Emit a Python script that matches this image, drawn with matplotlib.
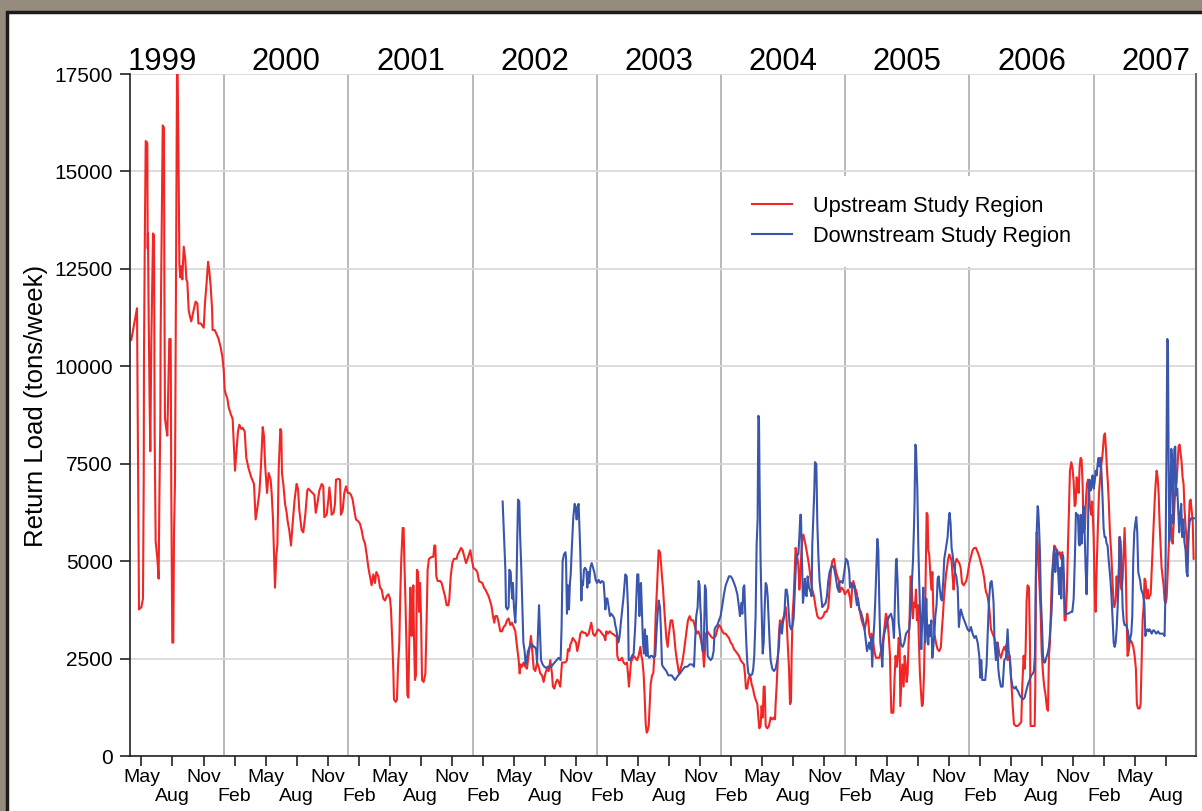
import matplotlib.pyplot as plt
from matplotlib.patches import Rectangle

plt.rcParams["font.family"] = ["Liberation Sans", "DejaVu Sans"]

# weekly return load, decimal year / tons per week
up_year = [
    1999.252, 1999.298, 1999.306, 1999.314, 1999.333, 1999.346, 1999.352, 1999.354, 1999.360, 1999.368,
    1999.381, 1999.384, 1999.386, 1999.392, 1999.400, 1999.405, 1999.413, 1999.427, 1999.435, 1999.440,
    1999.448, 1999.462, 1999.472, 1999.478, 1999.486, 1999.488, 1999.496, 1999.505, 1999.515, 1999.518,
    1999.523, 1999.534, 1999.542, 1999.550, 1999.558, 1999.569, 1999.574, 1999.582, 1999.590, 1999.596,
    1999.604, 1999.612, 1999.620, 1999.625, 1999.633, 1999.639, 1999.647, 1999.655, 1999.663, 1999.674,
    1999.687, 1999.695, 1999.703, 1999.714, 1999.725, 1999.735, 1999.754, 1999.770, 1999.784, 1999.792,
    1999.811, 1999.824, 1999.835, 1999.845, 1999.859, 1999.870, 1999.880, 1999.891, 1999.902, 1999.907,
    1999.923, 1999.937, 1999.955, 1999.972, 1999.985, 1999.996, 2000.004, 2000.012, 2000.025, 2000.036,
    2000.052, 2000.068, 2000.079, 2000.087, 2000.095, 2000.111, 2000.122, 2000.138, 2000.149, 2000.165,
    2000.178, 2000.197, 2000.218, 2000.240, 2000.253, 2000.267, 2000.283, 2000.296, 2000.310, 2000.320,
    2000.329, 2000.345, 2000.358, 2000.374, 2000.382, 2000.393, 2000.401, 2000.409, 2000.420, 2000.428,
    2000.439, 2000.452, 2000.460, 2000.465, 2000.476, 2000.490, 2000.503, 2000.511, 2000.524, 2000.538,
    2000.551, 2000.567, 2000.583, 2000.594, 2000.605, 2000.624, 2000.637, 2000.653, 2000.669,
    2000.677, 2000.704, 2000.726, 2000.737, 2000.750, 2000.766, 2000.785, 2000.798, 2000.806, 2000.825,
    2000.839, 2000.847, 2000.857, 2000.865, 2000.881, 2000.892, 2000.900, 2000.919, 2000.932, 2000.940,
    2000.954, 2000.967, 2000.981, 2000.994, 2001.008, 2001.021, 2001.034, 2001.048, 2001.061, 2001.080,
    2001.093, 2001.107, 2001.120, 2001.134, 2001.147, 2001.161, 2001.174, 2001.187, 2001.201, 2001.214,
    2001.225, 2001.241, 2001.255, 2001.268, 2001.281, 2001.295, 2001.308, 2001.322, 2001.335, 2001.343,
    2001.354, 2001.362, 2001.367, 2001.381, 2001.391, 2001.399, 2001.410, 2001.418, 2001.426, 2001.437,
    2001.445, 2001.450, 2001.459, 2001.467, 2001.475, 2001.483, 2001.491, 2001.499, 2001.504, 2001.510,
    2001.515, 2001.523, 2001.528, 2001.536, 2001.544, 2001.552, 2001.561, 2001.569, 2001.577, 2001.585,
    2001.593, 2001.606, 2001.620, 2001.630, 2001.638, 2001.649, 2001.671, 2001.684, 2001.692, 2001.700,
    2001.708, 2001.719, 2001.738, 2001.751, 2001.764, 2001.778, 2001.791, 2001.805, 2001.813, 2001.824,
    2001.837, 2001.850, 2001.872, 2001.880, 2001.899, 2001.907, 2001.920, 2001.934, 2001.947, 2001.960,
    2001.971, 2001.982, 2001.993, 2002.006, 2002.025, 2002.038, 2002.052, 2002.065, 2002.079, 2002.092,
    2002.103, 2002.129, 2002.151, 2002.164, 2002.175, 2002.183, 2002.197, 2002.210, 2002.223, 2002.237,
    2002.250, 2002.264, 2002.277, 2002.290, 2002.304, 2002.317, 2002.331, 2002.344, 2002.358, 2002.371,
    2002.379, 2002.387, 2002.398, 2002.411, 2002.425, 2002.438, 2002.446, 2002.460, 2002.470, 2002.478,
    2002.492, 2002.505, 2002.519, 2002.532, 2002.545, 2002.559, 2002.572, 2002.586, 2002.599, 2002.613,
    2002.626, 2002.639, 2002.647, 2002.658, 2002.672, 2002.682, 2002.693, 2002.706, 2002.714, 2002.720,
    2002.733, 2002.747, 2002.760, 2002.768, 2002.779, 2002.787, 2002.795, 2002.806, 2002.819, 2002.833,
    2002.843, 2002.854, 2002.868, 2002.881, 2002.894, 2002.908, 2002.921, 2002.935, 2002.948, 2002.956,
    2002.970, 2002.983, 2002.994, 2003.010, 2003.029, 2003.042, 2003.058, 2003.069, 2003.077, 2003.090,
    2003.104, 2003.123, 2003.136, 2003.149, 2003.160, 2003.165, 2003.176, 2003.190, 2003.203, 2003.216,
    2003.230, 2003.243, 2003.251, 2003.259, 2003.267, 2003.275, 2003.283, 2003.297, 2003.310, 2003.324,
    2003.337, 2003.351, 2003.359, 2003.367, 2003.377, 2003.385, 2003.394, 2003.402, 2003.410, 2003.418,
    2003.426, 2003.434, 2003.445, 2003.455, 2003.466, 2003.474, 2003.485, 2003.498, 2003.509, 2003.517,
    2003.525,
    2003.533, 2003.546, 2003.560, 2003.571, 2003.581, 2003.595, 2003.608, 2003.622, 2003.635, 2003.648,
    2003.662, 2003.675, 2003.689, 2003.702, 2003.716, 2003.734, 2003.748, 2003.761, 2003.777, 2003.791,
    2003.804, 2003.818, 2003.831, 2003.844, 2003.855, 2003.863, 2003.871, 2003.879, 2003.890, 2003.903,
    2003.917, 2003.930, 2003.944, 2003.957, 2003.971, 2003.984, 2003.997, 2004.011, 2004.024, 2004.038,
    2004.051, 2004.064, 2004.078, 2004.091, 2004.105, 2004.118, 2004.132, 2004.145, 2004.158, 2004.172,
    2004.185, 2004.193, 2004.201, 2004.212, 2004.220, 2004.231, 2004.239, 2004.247, 2004.258, 2004.268,
    2004.279, 2004.293, 2004.301, 2004.309, 2004.319, 2004.327, 2004.336, 2004.344, 2004.352, 2004.360,
    2004.373, 2004.386, 2004.400, 2004.413, 2004.427, 2004.435, 2004.440, 2004.448, 2004.456, 2004.467,
    2004.475, 2004.483, 2004.494, 2004.507, 2004.521, 2004.529, 2004.537, 2004.548, 2004.556, 2004.564,
    2004.569, 2004.577, 2004.585, 2004.593, 2004.601, 2004.612, 2004.623, 2004.631, 2004.639, 2004.647,
    2004.655, 2004.663, 2004.671, 2004.682, 2004.695, 2004.709, 2004.722, 2004.735, 2004.749, 2004.762,
    2004.776, 2004.789, 2004.808, 2004.824, 2004.837, 2004.851, 2004.864, 2004.875, 2004.886, 2004.896,
    2004.910, 2004.923, 2004.937, 2004.950,
    2004.958, 2004.972, 2004.985, 2004.998, 2005.012, 2005.025, 2005.039, 2005.047, 2005.055, 2005.066,
    2005.079, 2005.092, 2005.106, 2005.119, 2005.133, 2005.146, 2005.157, 2005.168, 2005.178, 2005.186,
    2005.194, 2005.202, 2005.213, 2005.221, 2005.235, 2005.248, 2005.261, 2005.275, 2005.288, 2005.302,
    2005.315, 2005.328, 2005.339, 2005.350, 2005.361, 2005.366, 2005.372, 2005.388, 2005.398, 2005.406,
    2005.414, 2005.422, 2005.431, 2005.439, 2005.444, 2005.452, 2005.460, 2005.471, 2005.479, 2005.487,
    2005.495, 2005.503, 2005.511, 2005.519, 2005.527, 2005.535, 2005.546, 2005.554, 2005.562, 2005.570,
    2005.578, 2005.586, 2005.594, 2005.602, 2005.610, 2005.618, 2005.626, 2005.635, 2005.643, 2005.651,
    2005.656, 2005.664, 2005.669, 2005.677, 2005.685, 2005.694, 2005.702, 2005.710, 2005.718, 2005.731,
    2005.744, 2005.758, 2005.771, 2005.779, 2005.787, 2005.795, 2005.804, 2005.812, 2005.820, 2005.830,
    2005.838, 2005.847, 2005.857, 2005.865, 2005.873, 2005.879, 2005.887, 2005.898, 2005.908, 2005.919,
    2005.930, 2005.941, 2005.954, 2005.965, 2005.975, 2005.986, 2006.000, 2006.013, 2006.026, 2006.040,
    2006.053, 2006.067, 2006.080, 2006.093, 2006.107, 2006.120, 2006.128, 2006.134, 2006.142, 2006.150,
    2006.158, 2006.166, 2006.174, 2006.187, 2006.201, 2006.214, 2006.228, 2006.241, 2006.254, 2006.268,
    2006.281, 2006.295, 2006.300, 2006.308, 2006.322, 2006.332, 2006.340, 2006.348, 2006.359, 2006.375,
    2006.389, 2006.405, 2006.418, 2006.426, 2006.437, 2006.445, 2006.453, 2006.461, 2006.469, 2006.480,
    2006.488, 2006.493, 2006.504, 2006.517, 2006.526, 2006.531, 2006.536, 2006.542, 2006.550, 2006.558,
    2006.566, 2006.574, 2006.582, 2006.593, 2006.603, 2006.614, 2006.625, 2006.633, 2006.641, 2006.649,
    2006.657, 2006.665, 2006.673, 2006.684, 2006.695, 2006.705, 2006.716, 2006.727, 2006.738, 2006.748,
    2006.759, 2006.767, 2006.775, 2006.786, 2006.794, 2006.802, 2006.810, 2006.821, 2006.831, 2006.840,
    2006.848, 2006.856, 2006.864, 2006.872, 2006.880, 2006.888, 2006.896, 2006.904, 2006.912, 2006.920,
    2006.931, 2006.939, 2006.947, 2006.955, 2006.963, 2006.971, 2006.982, 2006.990, 2007.001, 2007.009,
    2007.017, 2007.025, 2007.035, 2007.044, 2007.052, 2007.060, 2007.068, 2007.076, 2007.084, 2007.092,
    2007.100, 2007.108, 2007.116, 2007.124, 2007.132, 2007.143, 2007.151, 2007.159, 2007.167, 2007.178,
    2007.186, 2007.194, 2007.202, 2007.210, 2007.218, 2007.226, 2007.234, 2007.242, 2007.250, 2007.258,
    2007.266, 2007.274, 2007.283, 2007.290, 2007.298, 2007.309, 2007.320, 2007.331, 2007.341, 2007.349,
    2007.358, 2007.371, 2007.379, 2007.387, 2007.395, 2007.403, 2007.411, 2007.419, 2007.427, 2007.435,
    2007.443, 2007.451, 2007.460, 2007.468, 2007.476, 2007.484, 2007.492, 2007.500, 2007.508, 2007.516,
    2007.524, 2007.532, 2007.540, 2007.548, 2007.556, 2007.564, 2007.572, 2007.580, 2007.588, 2007.596,
    2007.604, 2007.613, 2007.621, 2007.629, 2007.637, 2007.645, 2007.653, 2007.661, 2007.669, 2007.677,
    2007.685, 2007.693, 2007.701, 2007.709, 2007.717, 2007.725, 2007.733, 2007.742, 2007.750, 2007.757,
    2007.765, 2007.774, 2007.782, 2007.790, 2007.798, 2007.806,
]
up_load = [
    10680, 11490, 7650, 3760, 3820, 4040, 7090, 10200, 12960, 15780,
    15730, 13020, 13410, 11210, 8950, 7820, 10590, 13410, 13360, 8220,
    5510, 5060, 4550, 6580, 8670, 10760, 13410, 16180, 16120, 12340,
    8670, 8390, 8220, 9460, 10700, 10700, 6810, 2910, 2910, 5740,
    7090, 12280, 17600, 17600, 14990, 12620, 12280, 12570, 12230, 13070,
    12740, 12230, 12170, 11440, 11270, 11150, 11440, 11660, 11610, 11100,
    11100, 11040, 10990, 11610, 12170, 12680, 12450, 12060, 11490, 10930,
    10930, 10840, 10700, 10480, 10250, 9910, 9400, 9290, 9180, 8950,
    8780, 8650, 7880, 7320, 7650, 8330, 8500, 8390, 8420, 8330,
    7650, 7370, 7150, 6980, 6070, 6360, 6750, 7430, 8440, 8220,
    7490, 6750, 7260, 7090, 6750, 6070, 5230, 4320, 5170, 5400,
    7370, 8390, 8330, 7260, 6980, 6470, 6240, 6020, 5790, 5400,
    5960, 6580, 6980, 6860, 6300, 5790, 5740, 6190, 6810,
    6860, 6770, 6700, 6240, 6470, 6810, 6980, 6920, 6130, 6190,
    6580, 6890, 6580, 6190, 6240, 6470, 7090, 7110, 7090, 6190,
    6300, 6750, 6920, 6750, 6750, 6700, 6580, 6300, 6070, 6020,
    5960, 5790, 5570, 5450, 5170, 4830, 4610, 4380, 4660, 4440,
    4720, 4610, 4320, 4270, 4040, 3990, 4100, 4150, 4040, 3760,
    2910, 2180, 1450, 1390, 1450, 2240, 2910, 4150, 5060, 5850,
    5850, 5060, 4040, 2910, 1560, 1500, 3140, 4320, 3930, 3080,
    3480, 4380, 3080, 1950, 2070, 4780, 4720, 3700, 4440, 3530,
    1950, 1900, 2120, 3480, 4780, 5060, 5110, 5110, 5400, 5400,
    4610, 4490, 4490, 4440, 4270, 4100, 3870, 3870, 4040, 4610,
    4950, 5060, 5060, 5170, 5280, 5340, 5280, 5110, 4950, 5060,
    5170, 5280, 5060, 4830, 4780, 4720, 4490, 4460, 4440, 4320,
    4270, 4100, 3870, 3590, 3420, 3590, 3590, 3420, 3200, 3200,
    3310, 3360, 3480, 3530, 3360, 3420, 3310, 3200, 2800, 2460,
    2120, 2350, 2290, 2400, 2290, 2240, 2460, 2800, 3080, 2800,
    2240, 2180, 2400, 2290, 2120, 2070, 1900, 2120, 2240, 2180,
    2460, 2120, 1780, 1730, 1900, 1960, 1900, 1780, 2120, 2400,
    2400, 2400, 2460, 2740, 2690, 2860, 2910, 3030, 2970, 2910,
    2690, 2860, 3140, 3200, 3160, 3160, 3080, 3140, 3310, 3420,
    3140, 3080, 3140, 3250, 3200, 3140, 3080, 2970, 3200, 3140,
    3200, 3140, 3120, 3080, 3080, 2570, 2460, 2460, 2520, 2400,
    2350, 2400, 2120, 1780, 2070, 2400, 2460, 2570, 2520, 2460,
    2570, 2800, 2570, 2460, 2120, 1560, 820, 600, 650, 770,
    1330, 1840, 2070, 2120, 2690, 3590, 4320, 5280, 5230, 4950,
    4610,
    4320, 3650, 3030, 2800, 3140, 3480, 3480, 3140, 2690, 2400,
    2120, 2240, 2400, 2690, 3030, 3480, 3590, 3480, 3480, 3310,
    3140, 3200, 3080, 2910, 2690, 2290, 2740, 3140, 3200, 3140,
    3080, 3030, 3030, 3080, 3250, 3360, 3310, 3200, 3140, 3140,
    3080, 3030, 2910, 2860, 2740, 2690, 2630, 2570, 2460, 2400,
    2350, 2120, 1730, 1730, 1950, 2070, 2010, 1840, 1730, 1560,
    1450, 1330, 990, 710, 770, 1280, 990, 1780, 1780, 770,
    710, 770, 990, 940, 990, 940, 1330, 1780, 2350, 3140,
    3480, 3200, 3480, 3590, 3820, 3480, 2910, 2240, 1330, 1390,
    2570, 3650, 4040, 4660, 5340, 5170, 4890, 4270, 4610, 5170,
    5570, 5680, 5570, 5400, 5170, 4890, 4550, 4270, 4100, 3820,
    3590, 3530, 3530, 3590, 3700, 3700, 3820, 4320, 4780, 5000,
    5060, 4780, 4610, 4490,
    4210, 4320, 4270, 4150, 4210, 4270, 4040, 3820, 4270, 4490,
    4320, 4210, 3930, 3700, 3480, 3360, 3250, 3420, 3650, 3480,
    3140, 3030, 3140, 3030, 2690, 2520, 2520, 2520, 2690, 2910,
    3250, 3650, 3530, 3140, 2570, 1780, 1110, 1110, 2010, 2570,
    2290, 2460, 3030, 2860, 1280, 1840, 2350, 1780, 2570, 2350,
    1900, 2120, 2910, 3590, 4610, 4440, 3530, 3930, 3820, 4270,
    3480, 3870, 2910, 2120, 1670, 1280, 1330, 2120, 3480, 5170,
    6240, 6190, 5280, 5170, 4720, 4270, 4720, 3700, 3140, 2910,
    2740, 2690, 2800, 3250, 3590, 4040, 4380, 4660, 4830, 5060,
    5170, 5110, 5000, 4610, 4270, 4490, 4950, 5060, 5000, 4950,
    4830, 4440, 4380, 4440, 4490, 4660, 4950, 5110, 5280, 5340,
    5340, 5230, 5110, 4950, 4780, 4550, 4320, 4210, 4150, 4040,
    3870, 3590, 3250, 3140, 3030, 2860, 2910, 2630, 2520, 2690,
    2800, 2690, 2860, 2460, 2570, 2240, 1780, 1330, 820, 770,
    770, 820, 880, 1780, 2570, 2240, 2690, 3990, 4380, 4320,
    2910, 770, 770, 770, 770, 1780, 4380, 5740, 5510, 4830,
    4270, 3700, 2690, 2120, 1780, 1560, 1220, 1160, 2570, 2910,
    3820, 4660, 4950, 5400, 5340, 5230, 5170, 5230, 5060, 5230,
    4490, 3480, 3480, 4270, 5400, 6300, 7320, 7540, 7370, 7030,
    6410, 6470, 7150, 7030, 6750, 7430, 7650, 7600, 6980, 5740,
    5850, 6580, 6980, 7090, 6860, 6410, 6190, 6530, 5570, 4320,
    3700, 4780, 5900, 6750, 7090, 7430, 7600, 7880, 8220, 8280,
    7880, 7370, 6980, 6410, 5740, 5170, 4610, 4040, 3820, 3990,
    4610, 4100, 4490, 5620, 4490, 4270, 4550, 5170, 5850, 5060,
    3590, 2570, 2690, 2910, 2970, 2910, 2800, 2570, 2240, 1330,
    1220, 1220, 1330, 2460, 3480, 3820, 4550, 4490, 4040, 4270,
    4040, 4100, 4150, 4720, 5340, 5960, 6530, 6980, 7320, 7150,
    6750, 5960, 5400, 4830, 4610, 4380, 3990, 3930, 4040, 4610,
    5280, 5960, 6190, 5620, 5450, 5960, 6530, 6860, 7030, 7490,
    7940, 7990, 7770, 7540, 7150, 6980, 6300, 5850, 5510, 5060,
    5740, 6530, 6580, 6300, 6070, 5060,
]

down_year = [
    2002.242, 2002.253, 2002.264, 2002.269, 2002.280, 2002.290, 2002.296, 2002.307, 2002.312, 2002.320,
    2002.325, 2002.333, 2002.344, 2002.352, 2002.360, 2002.366, 2002.376, 2002.382, 2002.392, 2002.401,
    2002.409, 2002.419, 2002.427, 2002.435, 2002.446, 2002.460, 2002.470, 2002.481, 2002.492, 2002.500,
    2002.511, 2002.519, 2002.527, 2002.535, 2002.543, 2002.551, 2002.564, 2002.578, 2002.591, 2002.604,
    2002.621, 2002.634, 2002.647, 2002.661, 2002.677, 2002.693, 2002.709, 2002.717, 2002.725, 2002.736,
    2002.747, 2002.752, 2002.760, 2002.768, 2002.776, 2002.784, 2002.790, 2002.800, 2002.811, 2002.822,
    2002.830, 2002.838, 2002.846, 2002.854, 2002.859, 2002.868, 2002.876, 2002.881, 2002.889, 2002.897,
    2002.905, 2002.916, 2002.924, 2002.932, 2002.940, 2002.948, 2002.959, 2002.970, 2002.980, 2002.991,
    2003.002, 2003.015, 2003.029, 2003.042, 2003.055, 2003.063, 2003.069, 2003.077, 2003.085, 2003.096,
    2003.106, 2003.117, 2003.131, 2003.141, 2003.149, 2003.157, 2003.165, 2003.174, 2003.184, 2003.192,
    2003.203, 2003.216, 2003.230, 2003.241, 2003.251, 2003.257, 2003.270, 2003.284, 2003.297, 2003.310,
    2003.318, 2003.326, 2003.335, 2003.343, 2003.348, 2003.356, 2003.364, 2003.372, 2003.380, 2003.388,
    2003.396, 2003.404, 2003.412, 2003.423, 2003.434, 2003.445, 2003.458, 2003.471, 2003.482, 2003.490,
    2003.498, 2003.509, 2003.517, 2003.525,
    2003.533, 2003.546, 2003.560, 2003.576, 2003.589, 2003.603, 2003.616, 2003.630, 2003.643, 2003.656,
    2003.670, 2003.683, 2003.697, 2003.710, 2003.729, 2003.748, 2003.769, 2003.783, 2003.791, 2003.801,
    2003.812, 2003.820, 2003.828, 2003.834, 2003.839, 2003.844, 2003.852, 2003.860, 2003.866, 2003.871,
    2003.879, 2003.885, 2003.893, 2003.903, 2003.917, 2003.930, 2003.941, 2003.949, 2003.957, 2003.971,
    2003.984, 2003.997, 2004.011, 2004.024, 2004.038, 2004.051, 2004.064, 2004.078, 2004.091, 2004.105,
    2004.118, 2004.132, 2004.145, 2004.153, 2004.164, 2004.172, 2004.180, 2004.188, 2004.196, 2004.204,
    2004.212, 2004.220, 2004.239, 2004.252, 2004.260, 2004.268, 2004.279, 2004.287, 2004.295, 2004.301,
    2004.306, 2004.311, 2004.319, 2004.327, 2004.336, 2004.344, 2004.352, 2004.360, 2004.368, 2004.376,
    2004.384, 2004.392, 2004.400, 2004.413, 2004.427, 2004.440, 2004.454, 2004.467, 2004.475, 2004.483,
    2004.491, 2004.499, 2004.510, 2004.521, 2004.529, 2004.537, 2004.545, 2004.553, 2004.564, 2004.574,
    2004.585, 2004.596, 2004.607, 2004.623, 2004.631, 2004.639, 2004.644, 2004.652, 2004.660, 2004.668,
    2004.676, 2004.682, 2004.690, 2004.698, 2004.709, 2004.722, 2004.730, 2004.735, 2004.743, 2004.751,
    2004.757, 2004.768, 2004.776, 2004.784, 2004.794, 2004.803, 2004.816, 2004.829, 2004.843, 2004.853,
    2004.864, 2004.875, 2004.886, 2004.896, 2004.910, 2004.923, 2004.937, 2004.950,
    2004.953, 2004.966, 2004.980, 2004.993, 2005.006, 2005.020, 2005.033, 2005.039, 2005.047, 2005.060,
    2005.074, 2005.087, 2005.095, 2005.103, 2005.114, 2005.127, 2005.141, 2005.154, 2005.168, 2005.176,
    2005.184, 2005.194, 2005.202, 2005.210, 2005.218, 2005.227, 2005.235, 2005.243, 2005.251, 2005.259,
    2005.267, 2005.275, 2005.283, 2005.291, 2005.299, 2005.307, 2005.315, 2005.328, 2005.342, 2005.355,
    2005.369, 2005.382, 2005.393, 2005.401, 2005.409, 2005.414, 2005.422, 2005.431, 2005.439, 2005.449,
    2005.463, 2005.476, 2005.490, 2005.503, 2005.516, 2005.530, 2005.538, 2005.546, 2005.554, 2005.559,
    2005.565, 2005.570, 2005.575, 2005.581, 2005.589, 2005.597, 2005.605, 2005.613, 2005.621, 2005.629,
    2005.637, 2005.645, 2005.653, 2005.661, 2005.669, 2005.677, 2005.685, 2005.694, 2005.702, 2005.710,
    2005.718, 2005.726, 2005.736, 2005.745, 2005.753, 2005.761, 2005.771, 2005.779, 2005.790, 2005.798,
    2005.812, 2005.825, 2005.833, 2005.841, 2005.849, 2005.857, 2005.865, 2005.873, 2005.884, 2005.895,
    2005.906, 2005.916, 2005.924, 2005.932, 2005.946, 2005.959, 2005.973, 2005.986, 2006.000, 2006.013,
    2006.026, 2006.040, 2006.053, 2006.067, 2006.080, 2006.088, 2006.096, 2006.104, 2006.118, 2006.128,
    2006.139, 2006.147, 2006.158, 2006.169, 2006.179, 2006.187, 2006.195, 2006.203, 2006.214, 2006.225,
    2006.233, 2006.241, 2006.254, 2006.268, 2006.281, 2006.295, 2006.308, 2006.316, 2006.327, 2006.335,
    2006.348, 2006.362, 2006.375,
    2006.378, 2006.391, 2006.405, 2006.418, 2006.432, 2006.445, 2006.458, 2006.472, 2006.485, 2006.499,
    2006.512, 2006.520, 2006.528, 2006.536, 2006.544, 2006.550, 2006.555, 2006.560, 2006.568, 2006.576,
    2006.585, 2006.593, 2006.601, 2006.609, 2006.619, 2006.630, 2006.641, 2006.652, 2006.662, 2006.670,
    2006.678, 2006.684, 2006.692, 2006.700, 2006.708, 2006.716, 2006.724, 2006.732, 2006.740, 2006.748,
    2006.756, 2006.764, 2006.772, 2006.794, 2006.821, 2006.829, 2006.840, 2006.850, 2006.858, 2006.866,
    2006.874, 2006.882, 2006.888, 2006.896, 2006.904, 2006.912, 2006.920, 2006.928, 2006.936, 2006.944,
    2006.952, 2006.960, 2006.968, 2006.977, 2006.984, 2006.992, 2007.001, 2007.009, 2007.017, 2007.025,
    2007.033, 2007.041, 2007.049, 2007.057, 2007.065, 2007.073, 2007.081, 2007.089, 2007.097, 2007.105,
    2007.113, 2007.121, 2007.129, 2007.137, 2007.146, 2007.154, 2007.162, 2007.170, 2007.178, 2007.186,
    2007.194, 2007.202, 2007.210, 2007.218, 2007.226, 2007.234, 2007.242, 2007.250, 2007.264, 2007.277,
    2007.288, 2007.296, 2007.304, 2007.312, 2007.320, 2007.328, 2007.336, 2007.344, 2007.352, 2007.360,
    2007.368, 2007.376, 2007.384, 2007.398, 2007.409, 2007.417, 2007.425, 2007.435, 2007.443, 2007.451,
    2007.460, 2007.468, 2007.476, 2007.484, 2007.492, 2007.505, 2007.519, 2007.532, 2007.545, 2007.559,
    2007.572, 2007.578, 2007.583, 2007.588, 2007.594, 2007.599, 2007.604, 2007.610, 2007.618, 2007.626,
    2007.634, 2007.642, 2007.650, 2007.658, 2007.666, 2007.674, 2007.682, 2007.690, 2007.698, 2007.706,
    2007.714, 2007.723, 2007.731, 2007.741, 2007.749, 2007.757, 2007.765, 2007.774, 2007.787, 2007.814,
]
down_load = [
    6530, 5680, 4780, 3820, 3760, 3820, 4780, 4720, 4320, 4040,
    4440, 3820, 3420, 4040, 5620, 6580, 6530, 5740, 4830, 3820,
    2910, 2690, 2350, 2460, 2690, 2800, 2860, 2860, 2800, 2800,
    2740, 2400, 3200, 3870, 3200, 2460, 2350, 2290, 2260, 2290,
    2290, 2290, 2350, 2400, 2460, 2520, 2460, 3360, 5000, 5170,
    5230, 5110, 3650, 4380, 3760, 4440, 4660, 5400, 6130, 6470,
    6360, 6070, 6410, 6470, 6020, 5170, 3990, 4490, 4380, 4780,
    4830, 4780, 4320, 4720, 4440, 4830, 4950, 4830, 4720, 4520,
    4440, 4520, 4440, 4490, 4460, 4100, 3760, 4040, 4040, 3820,
    3590, 3650, 3590, 3530, 3360, 3250, 3080, 2910, 3080, 3360,
    3700, 4100, 4660, 4610, 3820, 2460, 2460, 2570, 2630, 3360,
    4040, 4660, 4660, 3590, 4320, 4440, 3700, 2910, 2630, 3250,
    2570, 3080, 2570, 2520, 2570, 2570, 2520, 2570, 3250, 3650,
    3990, 3820, 3200, 2350,
    2290, 2240, 2180, 2070, 2070, 2070, 2010, 1950, 2010, 2070,
    2120, 2180, 2240, 2290, 2290, 2350, 2350, 2290, 2910, 3590,
    3820, 4490, 4380, 3820, 3590, 2910, 2690, 2690, 3480, 4380,
    4270, 3480, 2570, 2520, 2460, 2520, 2690, 3250, 3310, 3360,
    3480, 3590, 3870, 4150, 4380, 4490, 4610, 4610, 4550, 4440,
    4320, 4150, 3820, 3590, 3930, 3650, 4320, 4380, 3590, 2910,
    2400, 2120, 2070, 2100, 2240, 2570, 3590, 5400, 6070, 8730,
    8670, 6980, 5000, 3820, 2630, 2910, 3820, 4440, 4380, 4100,
    3480, 2910, 2460, 2240, 2180, 2240, 2460, 2800, 3360, 3250,
    3140, 3420, 3590, 4270, 4270, 4100, 3700, 3360, 3250, 3310,
    3530, 4380, 5170, 5170, 5620, 6190, 6190, 5060, 3930, 4150,
    4550, 4150, 4100, 4610, 4320, 4210, 4100, 5400, 6070, 6750,
    7540, 7490, 5960, 5170, 4490, 4210, 3820, 3870, 3930, 4100,
    4490, 4720, 4830, 4890, 4830, 4610, 4320, 4210,
    4440, 4490, 4440, 4720, 5060, 5000, 4720, 4320, 4440, 4320,
    4380, 4040, 3870, 4040, 3760, 3700, 3530, 3310, 2910, 2690,
    2800, 2910, 2740, 3030, 2290, 3030, 3420, 4040, 4830, 5570,
    5280, 3930, 2910, 2690, 2290, 2910, 3140, 3310, 3480, 3590,
    3650, 3480, 3030, 4040, 4950, 5060, 4490, 3420, 3200, 2860,
    2800, 2910, 3140, 3200, 3250, 3820, 4490, 5000, 5850, 6530,
    7990, 7940, 7430, 6860, 5400, 4380, 3480, 2740, 3590, 4320,
    3420, 2910, 4040, 3250, 2860, 3360, 3080, 3480, 2520, 2800,
    3140, 3590, 3870, 4550, 4610, 4320, 4040, 3990, 4490, 5060,
    5340, 5620, 6020, 6240, 5960, 5340, 5170, 4950, 4720, 4610,
    4320, 3310, 3590, 3760, 3590, 3480, 3360, 3250, 3200, 3310,
    3140, 3030, 3080, 2910, 2570, 2010, 2460, 1950, 1950, 1950,
    2350, 3080, 3990, 4440, 4490, 4270, 3930, 2910, 2460, 2910,
    2240, 2010, 1780, 1780, 2460, 2520, 3250, 2690, 2520, 2010,
    1780, 1730, 1780,
    1730, 1670, 1560, 1500, 1450, 1500, 1670, 1840, 1950, 2070,
    2120, 2180, 2570, 4830, 5900, 6410, 6300, 5960, 5280, 4040,
    3360, 2570, 2400, 2400, 2520, 2630, 2800, 3250, 3700, 4440,
    5170, 5340, 4720, 5170, 5280, 4660, 4150, 4830, 4040, 5170,
    5110, 4320, 3650, 3650, 3700, 3700, 4040, 5110, 6240, 6190,
    6190, 5450, 5400, 6190, 5450, 5960, 6410, 5790, 4830, 4150,
    5170, 6750, 7090, 6810, 6980, 7200, 6860, 7030, 7320, 7200,
    7490, 7650, 7430, 7650, 7200, 6580, 5850, 5620, 5620, 5450,
    5400, 5060, 4780, 4490, 3990, 3480, 2910, 2800, 2910, 3250,
    3820, 4490, 5620, 5510, 4830, 3820, 3480, 3360, 3360, 3200,
    2910, 3030, 3140, 3590, 5060, 5740, 5960, 6130, 5740, 4720,
    4610, 4490, 4270, 4150, 3930, 3080, 3200, 3250, 3200, 3250,
    3200, 3140, 3200, 3230, 3200, 3140, 3200, 3140, 3140, 3140,
    3080, 4040, 6300, 8110, 10700, 10590, 7880, 5510, 6190, 7880,
    7540, 5960, 7880, 7940, 6700, 6860, 6300, 5740, 6190, 6470,
    5620, 6070, 5510, 5280, 4720, 4610, 5740, 6020, 6100, 6100,
]

years = list(range(1999, 2008))
upper_months = {5: "May", 11: "Nov"}   # first label row
lower_months = {2: "Feb", 8: "Aug"}    # second label row
load_ticks = [0, 2500, 5000, 7500, 10000, 12500, 15000, 17500]
x_range = (1999.2415, 2007.825)


def month_ticks(months):
    pos, labels = [], []
    for yr in years:
        for m, name in months.items():
            t = yr + (m - 1) / 12
            if x_range[0] <= t <= x_range[1]:
                pos.append(t)
                labels.append(name)
    return pos, labels


def setup_axes(fig):
    ax = fig.add_axes([130 / 1202, 1 - 756 / 811, 1066 / 1202, 682 / 811])
    ax.set_xlim(*x_range)
    ax.set_ylim(0, 17500)

    # May/Nov on the major ticks, Feb/Aug one row lower on the minor ones
    pos, labels = month_ticks(upper_months)
    ax.set_xticks(pos, labels)
    pos, labels = month_ticks(lower_months)
    ax.set_xticks(pos, labels, minor=True)
    ax.tick_params(axis="x", which="both", length=7.5, width=1.2,
                   labelsize=14, color="#222222")
    ax.tick_params(axis="x", which="major", pad=2)
    ax.tick_params(axis="x", which="minor", pad=15.4)

    ax.set_yticks(load_ticks)
    ax.tick_params(axis="y", length=7.5, width=1.2, labelsize=15, pad=5,
                   color="#222222")

    ax.set_axisbelow(True)
    ax.grid(axis="y", color="#d9d9d9", lw=1.3)
    ax.vlines(years[1:], 0, 1, transform=ax.get_xaxis_transform(),
              colors="#b3b3b3", lw=1.3, zorder=0.5)

    ax.spines["top"].set_visible(False)
    ax.spines["right"].set_color("#6e6e6e")
    ax.spines["right"].set_linewidth(1.5)
    for side in ("left", "bottom"):
        ax.spines[side].set_color("#222222")
        ax.spines[side].set_linewidth(1.2)

    ax.set_ylabel("Return Load (tons/week)", fontsize=18.5)
    ax.yaxis.set_label_coords(-0.077, 0.513)

    for yr in years:
        ax.annotate(str(yr), xy=(yr + 0.5, 1), xycoords=("data", "axes fraction"),
                    xytext=(0, 3), textcoords="offset points", ha="center",
                    va="baseline", fontsize=22.3, annotation_clip=False)
    return ax


def main():
    fig = plt.figure(figsize=(12.02, 8.11), dpi=100, facecolor="#958c7e")
    # white panel with dark frame
    fig.add_artist(Rectangle((7 / 1202, -0.1), 1.2, 1.1 - 12 / 811,
                             transform=fig.transFigure, facecolor="white",
                             edgecolor="#1c1c1c", lw=2.5, zorder=-1))

    ax = setup_axes(fig)
    ax.plot(up_year, up_load, color="#f22624", lw=1.5, label="Upstream Study Region")
    ax.plot(down_year, down_load, color="#3a55ad", lw=1.5, label="Downstream Study Region")

    leg = ax.legend(loc="upper left", bbox_to_anchor=(0.5648, 0.850),
                    borderaxespad=0, borderpad=0.9, fontsize=15.7,
                    handlelength=1.85, handletextpad=0.95, labelspacing=0.42,
                    frameon=True, fancybox=False, framealpha=1)
    leg.get_frame().set_facecolor("white")
    leg.get_frame().set_edgecolor("none")
    leg.set_zorder(5)

    fig.savefig("out.png", dpi=100, facecolor=fig.get_facecolor())


if __name__ == "__main__":
    main()
